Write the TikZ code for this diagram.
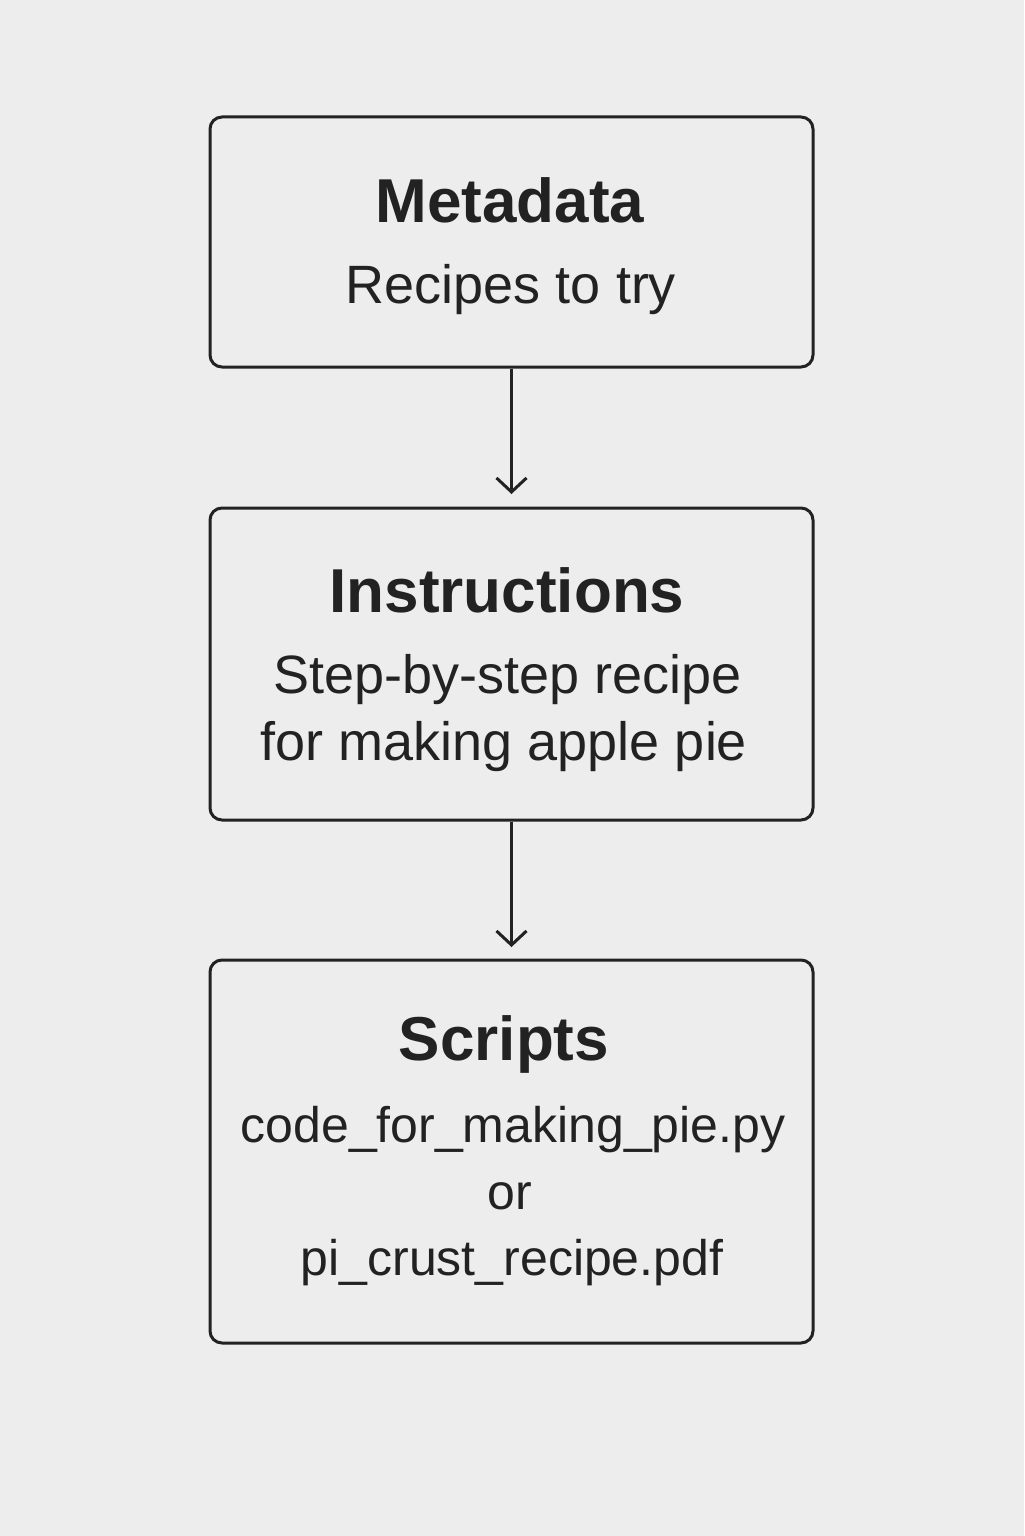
\documentclass[tikz,border=0pt]{standalone}
\usepackage{fontspec}
\setmainfont{Liberation Sans}
\usetikzlibrary{arrows.meta}
\definecolor{bg}{HTML}{EDEDED}
\definecolor{ink}{HTML}{222222}
\tikzset{
  box/.style={draw=ink, line width=1.5pt, rounded corners=6pt, minimum width=301.5pt, inner sep=0pt},
  title/.style={text=ink, font=\fontsize{31}{36}\selectfont\bfseries, inner sep=0pt},
  body/.style={text=ink, font=\fontsize{27}{32}\selectfont, inner sep=0pt},
  code/.style={text=ink, font=\fontsize{25}{30}\selectfont, inner sep=0pt},
  conn/.style={draw=ink, line width=1.5pt, -{Straight Barb[length=7pt,width=15pt,line width=1.5pt]}}
}
\begin{document}
\begin{tikzpicture}[x=0.5pt,y=-0.5pt]
\fill[bg] (0,0) rectangle (1024,1536);
\useasboundingbox (0,0) rectangle (1024,1536);
\node[box, minimum height=125pt] (b1) at (511.5,242) {};
\node[box, minimum height=156pt] (b2) at (511.5,664) {};
\node[box, minimum height=191.5pt] (b3) at (511.5,1151.5) {};
\node[title] (t1) at (510,200) {Metadata};
\node[body] (s1) at (511,290) {Recipes to try};
\node[title] (t2) at (507,590) {Instructions};
\node[body] (s2a) at (508,680) {Step-by-step recipe};
\node[body] (s2b) at (504,747) {for making apple pie};
\node[title] (t3) at (504,1044) {Scripts};
\node[code] (s3a) at (513,1130) {code\_for\_making\_pie.py};
\node[code] (s3b) at (510,1196) {or};
\node[code] (s3c) at (512,1263) {pi\_crust\_recipe.pdf};
\coordinate (a1) at (511.5,494);
\coordinate (a2) at (511.5,947);
\draw[conn] (b1.south) -- (a1);
\draw[conn] (b2.south) -- (a2);
\end{tikzpicture}
\end{document}
